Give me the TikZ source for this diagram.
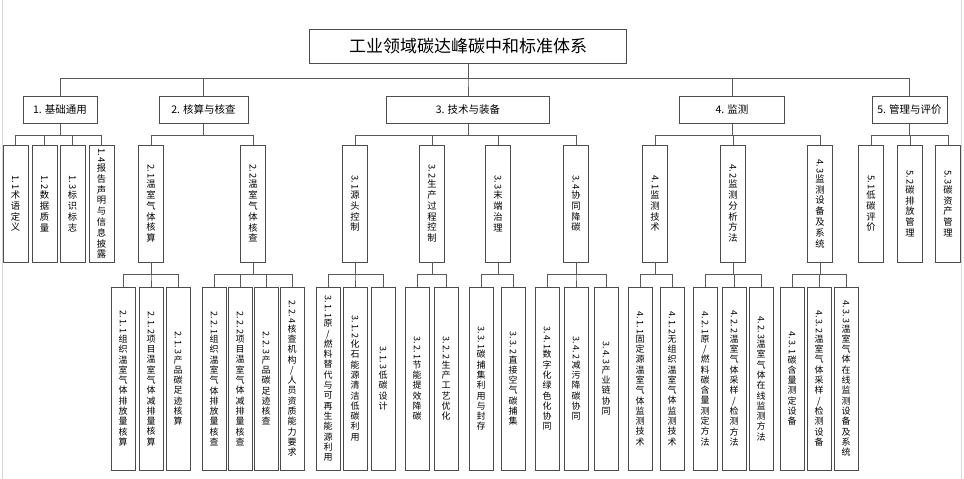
\documentclass[tikz,border=0pt]{standalone}
\usepackage{fontspec}
\setmainfont{Noto Sans CJK SC}
\usepackage{graphicx}

% 竖排文字：编号旋转，汉字逐字直立
\makeatletter
\newcommand\vlab[2]{%
  \def\vl@out{}%
  \@tfor\vl@ch:=#2\do{\edef\vl@out{\unexpanded\expandafter{\vl@out}\noexpand\\\vl@ch}}%
  \rotatebox{-90}{#1}\vl@out}
\makeatother

\tikzset{
  link/.style={draw=black!65, line width=0.8pt},
  titlebox/.style={draw=black!70, line width=0.8pt, minimum width=317, minimum height=34,
    inner sep=0pt, font=\fontsize{17}{20}\selectfont},
  topbox/.style={draw=black!70, line width=0.8pt, minimum height=27, inner sep=0pt,
    font=\fontsize{10.5}{12}\selectfont},
  midbox/.style={draw=black!70, line width=0.8pt, minimum width=25, minimum height=117,
    inner sep=0pt, align=center, font=\fontsize{9.3}{10.8}\selectfont},
  leafbox/.style={draw=black!70, line width=0.8pt, minimum width=24, minimum height=183,
    inner sep=0pt, align=center, font=\fontsize{9}{10.3}\selectfont},
}

\begin{document}
\begin{tikzpicture}[x=1pt, y=-1pt]
  \useasboundingbox (0,0) rectangle (964,479);
  % 页边线
  \draw[black!15, line width=0.8pt] (2.7,0) -- (2.7,479);
  \draw[black!15, line width=0.8pt] (961,0) -- (961,479);

  % 总标题
  \node[titlebox] (title) at (468,46) {工业领域碳达峰碳中和标准体系};

  % 第一层
  \node[topbox, minimum width=74]  (g1) at (60,109.5)    {1. 基础通用};
  \node[topbox, minimum width=89]  (g2) at (203.5,109.5) {2. 核算与核查};
  \node[topbox, minimum width=163] (g3) at (468,109.5)   {3. 技术与装备};
  \node[topbox, minimum width=105] (g4) at (732,109.5)   {4. 监测};
  \node[topbox, minimum width=75]  (g5) at (909.5,109.5) {5. 管理与评价};

  % 第二层
  \node[midbox] (s11) at (15.5,203.5)  {\vlab{1.\,1}{术语定义}};
  \node[midbox] (s12) at (44.5,203.5)  {\vlab{1.\,2}{数据质量}};
  \node[midbox] (s13) at (72.5,203.5)  {\vlab{1.\,3}{标识标志}};
  \node[midbox] (s14) at (101.5,203.5) {\vlab{1.\,4}{报告声明与信息披露}};
  \node[midbox] (s21) at (151,203.5)   {\vlab{2.\,1}{温室气体核算}};
  \node[midbox] (s22) at (253,203.5)   {\vlab{2.\,2}{温室气体核查}};
  \node[midbox] (s31) at (355,203.5)   {\vlab{3.\,1}{源头控制}};
  \node[midbox] (s32) at (432,203.5)   {\vlab{3.\,2}{生产过程控制}};
  \node[midbox] (s33) at (498,203.5)   {\vlab{3.\,3}{末端治理}};
  \node[midbox] (s34) at (576,203.5)   {\vlab{3.\,4}{协同降碳}};
  \node[midbox] (s41) at (655,203.5)   {\vlab{4.\,1}{监测技术}};
  \node[midbox] (s42) at (733,203.5)   {\vlab{4.\,2}{监测分析方法}};
  \node[midbox] (s43) at (820,203.5)   {\vlab{4.\,3}{监测设备及系统}};
  \node[midbox] (s51) at (871,203.5)   {\vlab{5.\,1}{低碳评价}};
  \node[midbox] (s52) at (910,203.5)   {\vlab{5.\,2}{碳排放管理}};
  \node[midbox] (s53) at (948,203.5)   {\vlab{5.\,3}{碳资产管理}};

  % 第三层
  \node[leafbox] (t211) at (123,378.5) {\vlab{2.\,1.\,1}{组织温室气体排放量核算}};
  \node[leafbox] (t212) at (151,378.5) {\vlab{2.\,1.\,2}{项目温室气体减排量核算}};
  \node[leafbox] (t213) at (178,378.5) {\vlab{2.\,1.\,3}{产品碳足迹核算}};
  \node[leafbox] (t221) at (214,378.5) {\vlab{2.\,2.\,1}{组织温室气体排放量核查}};
  \node[leafbox] (t222) at (240,378.5) {\vlab{2.\,2.\,2}{项目温室气体减排量核查}};
  \node[leafbox] (t223) at (266,378.5) {\vlab{2.\,2.\,3}{产品碳足迹核查}};
  \node[leafbox] (t224) at (292,378.5) {\vlab{2.\,2.\,4}{核查机构/人员资质能力要求}};
  \node[leafbox] (t311) at (328,378.5) {\vlab{3.\,1.\,1}{原/燃料替代与可再生能源利用}};
  \node[leafbox] (t312) at (355,378.5) {\vlab{3.\,1.\,2}{化石能源清洁低碳利用}};
  \node[leafbox] (t313) at (383,378.5) {\vlab{3.\,1.\,3}{低碳设计}};
  \node[leafbox] (t321) at (417,378.5) {\vlab{3.\,2.\,1}{节能提效降碳}};
  \node[leafbox] (t322) at (446,378.5) {\vlab{3.\,2.\,2}{生产工艺优化}};
  \node[leafbox] (t331) at (481,378.5) {\vlab{3.\,3.\,1}{碳捕集利用与封存}};
  \node[leafbox] (t332) at (513,378.5) {\vlab{3.\,3.\,2}{直接空气碳捕集}};
  \node[leafbox] (t341) at (547,378.5) {\vlab{3.\,4.\,1}{数字化绿色化协同}};
  \node[leafbox] (t342) at (576,378.5) {\vlab{3.\,4.\,2}{减污降碳协同}};
  \node[leafbox] (t343) at (606,378.5) {\vlab{3.\,4.\,3}{产业链协同}};
  \node[leafbox] (t411) at (640,378.5) {\vlab{4.\,1.\,1}{固定源温室气体监测技术}};
  \node[leafbox] (t412) at (672,378.5) {\vlab{4.\,1.\,2}{无组织温室气体监测技术}};
  \node[leafbox] (t421) at (705,378.5) {\vlab{4.\,2.\,1}{原/燃料碳含量测定方法}};
  \node[leafbox] (t422) at (734,378.5) {\vlab{4.\,2.\,2}{温室气体采样/检测方法}};
  \node[leafbox] (t423) at (761,378.5) {\vlab{4.\,2.\,3}{温室气体在线监测方法}};
  \node[leafbox] (t431) at (792,378.5) {\vlab{4.\,3.\,1}{碳含量测定设备}};
  \node[leafbox] (t432) at (819,378.5) {\vlab{4.\,3.\,2}{温室气体采样/检测设备}};
  \node[leafbox] (t433) at (846,378.5) {\vlab{4.\,3.\,3}{温室气体在线监测设备及系统}};

  % 连线
  \foreach \k in {g1,g2,g3,g4,g5}
    \draw[link] (title.south) -- ++(0,15) -| (\k.north);
  \foreach \p/\kids in {g1/{s11,s12,s13,s14}, g2/{s21,s22}, g3/{s31,s32,s33,s34},
                        g4/{s41,s42,s43}, g5/{s51,s52,s53}}
    \foreach \k in \kids
      \draw[link] (\p.south) -- ++(0,12) -| (\k.north);
  \foreach \p/\kids in {s21/{t211,t212,t213}, s22/{t221,t222,t223,t224},
                        s31/{t311,t312,t313}, s32/{t321,t322}, s33/{t331,t332},
                        s34/{t341,t342,t343}, s41/{t411,t412},
                        s42/{t421,t422,t423}, s43/{t431,t432,t433}}
    \foreach \k in \kids
      \draw[link] (\p.south) -- ++(0,12) -| (\k.north);
\end{tikzpicture}
\end{document}
